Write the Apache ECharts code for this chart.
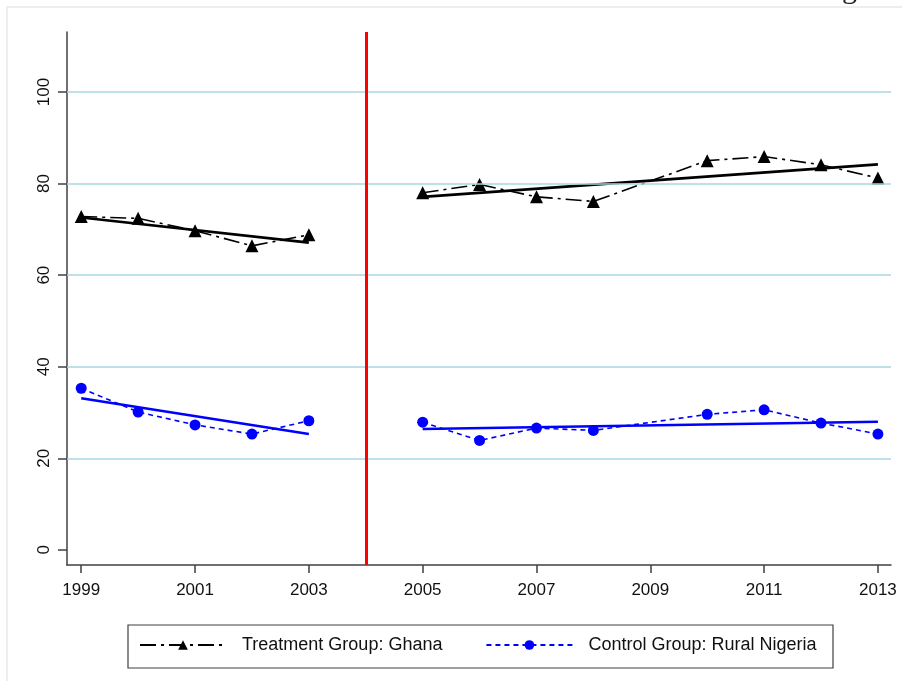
<!DOCTYPE html>
<html>
<head>
<meta charset="utf-8">
<script src="https://cdn.jsdelivr.net/npm/echarts@6/dist/echarts.min.js"></script>
<style>
  html, body { margin: 0; padding: 0; background: #fff; }
  #chart { width: 902px; height: 681px; }
</style>
</head>
<body>
<div id="chart"></div>
<script>
// Survey years (2004 has no data; 2009 missing)
const years = [1999, 2000, 2001, 2002, 2003, 2005, 2006, 2007, 2008, 2010, 2011, 2012, 2013];
const ghana = [72.8, 72.4, 69.7, 66.4, 68.8, 78.0, 79.8, 77.1, 76.1, 85.0, 85.9, 84.1, 81.2];
const nigeria = [35.3, 30.1, 27.3, 25.3, 28.2, 27.9, 23.9, 26.6, 26.1, 29.6, 30.6, 27.7, 25.3];

// Linear fit endpoints for each period
const fitYearsPre = [1999, 2003];
const fitYearsPost = [2005, 2013];
const ghanaFitPre = [72.6, 67.1];
const ghanaFitPost = [77.1, 84.2];
const nigeriaFitPre = [33.1, 25.3];
const nigeriaFitPost = [26.4, 28.0];

const yTicks = [0, 20, 40, 60, 80, 100];
const xTicks = [1999, 2001, 2003, 2005, 2007, 2009, 2011, 2013];
const gridValues = [20, 40, 60, 80, 100];
const breakYear = 2004;

const nameG = 'Treatment Group: Ghana';
const nameN = 'Control Group: Rural Nigeria';

const pairs = (xs, ys, keep) => xs.map((x, i) => [x, ys[i]]).filter(p => keep(p[0]));
const pre = x => x < breakYear;
const post = x => x > breakYear;

const font = 'Liberation Sans, Arial, sans-serif';

const ghanaStyle = {
  type: 'line', name: nameG, symbol: 'triangle', symbolSize: 13,
  itemStyle: { color: '#000' },
  lineStyle: { color: '#000', width: 1.6, type: [16, 5, 3, 5] },
  z: 3
};
const nigeriaStyle = {
  type: 'line', name: nameN, symbol: 'circle', symbolSize: 11,
  itemStyle: { color: '#0000ff' },
  lineStyle: { color: '#0000ff', width: 1.6, type: [5, 4] },
  z: 3
};
const fit = (name, xs, ys, color) => ({
  type: 'line', name, data: xs.map((x, i) => [x, ys[i]]), symbol: 'none',
  lineStyle: { color, width: 2.6, type: 'solid' }, z: 4, silent: true
});

const chart = echarts.init(document.getElementById('chart'), null, { renderer: 'canvas' });
chart.setOption({
  animation: false,
  backgroundColor: '#fff',
  grid: { left: 67, right: 11, top: 32, bottom: 116 },
  xAxis: {
    type: 'value', min: 1998.75, max: 2013.23,
    axisLine: { onZero: false, lineStyle: { color: '#404040', width: 1.5 } },
    axisTick: { show: true, length: 8, customValues: xTicks, lineStyle: { color: '#404040', width: 1.5 } },
    axisLabel: { customValues: xTicks, color: '#111', fontSize: 17, fontFamily: font, margin: 17,
      formatter: v => String(v) },
    splitLine: { show: false }
  },
  yAxis: {
    type: 'value', min: -3.3, max: 113.1,
    axisLine: { show: true, onZero: false, lineStyle: { color: '#404040', width: 1.5 } },
    axisTick: { show: true, length: 9, customValues: yTicks, lineStyle: { color: '#404040', width: 1.5 } },
    axisLabel: { customValues: yTicks, color: '#111', fontSize: 17, fontFamily: font, rotate: 90, margin: 14 },
    splitLine: { show: false }
  },
  legend: {
    data: [nameG, nameN],
    left: 139, top: 636, padding: 0,
    itemWidth: 86, itemHeight: 12, itemGap: 43,
    textStyle: { fontSize: 18, fontFamily: font, color: '#111', padding: [0, 0, 0, 11] }
  },
  graphic: [
    { type: 'rect', shape: { x: 7, y: 7, width: 1000, height: 1000 }, style: { fill: 'none', stroke: '#e4ecec', lineWidth: 1.5 }, silent: true },
    { type: 'rect', shape: { x: 128, y: 625, width: 705, height: 43 }, style: { fill: 'none', stroke: '#404040', lineWidth: 1.2 }, silent: true },
    { type: 'text', x: 842, y: 5, style: { text: 'g', font: '30px Liberation Serif', fill: '#222', verticalAlign: 'bottom' }, silent: true }
  ],
  series: [
    {
      type: 'line', name: 'guides', data: [], silent: true,
      markLine: {
        symbol: 'none', silent: true, label: { show: false },
        data: gridValues.map(v => ({ yAxis: v, lineStyle: { color: '#a9d6e5', width: 1.6, type: 'solid' } }))
          .concat([{ xAxis: breakYear, lineStyle: { color: '#ff0000', width: 3, type: 'solid' } }])
      },
      z: 1
    },
    Object.assign({}, ghanaStyle, { data: pairs(years, ghana, pre) }),
    Object.assign({}, ghanaStyle, { data: pairs(years, ghana, post) }),
    Object.assign({}, nigeriaStyle, { data: pairs(years, nigeria, pre) }),
    Object.assign({}, nigeriaStyle, { data: pairs(years, nigeria, post) }),
    fit('fitGhanaPre', fitYearsPre, ghanaFitPre, '#000'),
    fit('fitGhanaPost', fitYearsPost, ghanaFitPost, '#000'),
    fit('fitNigeriaPre', fitYearsPre, nigeriaFitPre, '#0000ff'),
    fit('fitNigeriaPost', fitYearsPost, nigeriaFitPost, '#0000ff')
  ]
});
</script>
</body>
</html>
